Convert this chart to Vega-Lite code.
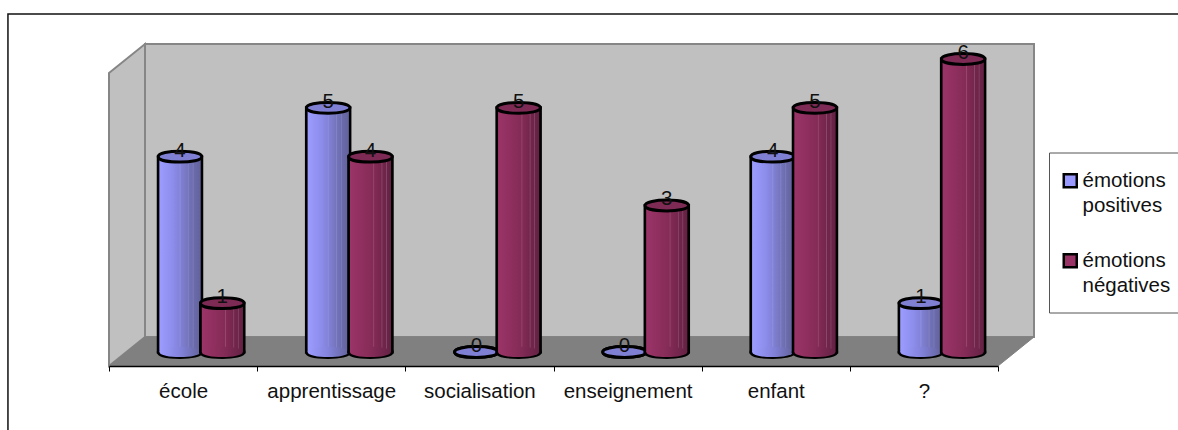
{
  "$schema": "https://vega.github.io/schema/vega-lite/v6.json",
  "width": 925,
  "height": 322,
  "autosize": {"type": "none"},
  "padding": {"left": 109, "top": 44, "right": 144, "bottom": 64},
  "background": "white",
  "view": {"stroke": null},
  "config": {"font": "Liberation Sans"},
  "datasets": {
    "emotions": [
      {"categorie": "école", "serie": "émotions positives", "valeur": 4},
      {"categorie": "école", "serie": "émotions négatives", "valeur": 1},
      {"categorie": "apprentissage", "serie": "émotions positives", "valeur": 5},
      {"categorie": "apprentissage", "serie": "émotions négatives", "valeur": 4},
      {"categorie": "socialisation", "serie": "émotions positives", "valeur": 0},
      {"categorie": "socialisation", "serie": "émotions négatives", "valeur": 5},
      {"categorie": "enseignement", "serie": "émotions positives", "valeur": 0},
      {"categorie": "enseignement", "serie": "émotions négatives", "valeur": 3},
      {"categorie": "enfant", "serie": "émotions positives", "valeur": 4},
      {"categorie": "enfant", "serie": "émotions négatives", "valeur": 5},
      {"categorie": "?", "serie": "émotions positives", "valeur": 1},
      {"categorie": "?", "serie": "émotions négatives", "valeur": 6}
    ]
  },
  "resolve": {"scale": {"x": "independent"}},
  "layer": [
    {
      "description": "Chart frame and the walls and floor of the 3D box, in category and value units",
      "layer": [
        {
          "data": {"values": [{"a": -0.682, "b": 7.5, "haut": 6.921, "bas": -2}]},
          "mark": {"type": "rect", "fill": "white", "stroke": "#111111", "strokeWidth": 1.5},
          "encoding": {
            "x": {"field": "a", "type": "quantitative", "axis": null, "scale": {"domain": [0, 6.243], "range": [0, 925], "nice": false, "zero": false}},
            "x2": {"field": "b"},
            "y": {"field": "haut", "type": "quantitative", "axis": null, "scale": {"domain": [-0.287, 6.307], "range": [322, 0], "nice": false, "zero": false}},
            "y2": {"field": "bas"}
          }
        },
        {
          "data": {"values": [{"a": 0, "haut": 5.713, "bas": -0.287}, {"a": 0.243, "haut": 6.307, "bas": 0.307}]},
          "mark": {"type": "area", "fill": "#c0c0c0", "stroke": "#868686", "strokeWidth": 2},
          "encoding": {
            "x": {"field": "a", "type": "quantitative", "axis": null},
            "y": {"field": "haut", "type": "quantitative", "axis": null},
            "y2": {"field": "bas"}
          }
        },
        {
          "data": {"values": [{"a": 0.243, "b": 6.243, "haut": 6.307, "bas": 0.307}]},
          "mark": {"type": "rect", "fill": "#c0c0c0", "stroke": "#868686", "strokeWidth": 2},
          "encoding": {
            "x": {"field": "a", "type": "quantitative", "axis": null},
            "x2": {"field": "b"},
            "y": {"field": "haut", "type": "quantitative", "axis": null},
            "y2": {"field": "bas"}
          }
        },
        {
          "data": {"values": [{"a": 0, "b": 6, "niveau": -0.287}, {"a": 0.243, "b": 6.243, "niveau": 0.307}]},
          "mark": {"type": "area", "orient": "horizontal", "fill": "#808080", "stroke": "#808080", "strokeWidth": 1},
          "encoding": {
            "y": {"field": "niveau", "type": "quantitative", "axis": null},
            "x": {"field": "a", "type": "quantitative", "axis": null},
            "x2": {"field": "b"}
          }
        }
      ]
    },
    {
      "description": "Cylinders: base ellipse, outlined body, shaded body, shaded base, lid, value label",
      "data": {"name": "emotions"},
      "encoding": {
        "x": {
          "field": "categorie",
          "type": "nominal",
          "sort": null,
          "scale": {"domain": ["école", "apprentissage", "socialisation", "enseignement", "enfant", "?"], "range": [0, 889], "paddingInner": 0, "paddingOuter": 0},
          "axis": {
            "title": null,
            "labelAngle": 0,
            "labelFontSize": 20.5,
            "labelColor": "#111111",
            "labelPadding": 10,
            "labelFont": "Liberation Sans",
            "domainColor": "#000000",
            "domainWidth": 1.5,
            "tickColor": "#000000",
            "tickSize": 5,
            "tickWidth": 1,
            "tickBand": "extent",
            "grid": false,
            "zindex": 1
          }
        },
        "xOffset": {
          "field": "serie",
          "type": "nominal",
          "scale": {"type": "point", "domain": ["émotions positives", "émotions négatives"], "range": [71, 113.3], "padding": 0}
        },
        "y": {"field": "valeur", "type": "quantitative", "axis": null, "stack": null}
      },
      "layer": [
        {
          "transform": [{"filter": "datum.serie === 'émotions positives'"}],
          "mark": {"type": "point", "shape": "M-1 0C-1 -0.333 1 -0.333 1 0C1 0.333 -1 0.333 -1 0Z", "size": 1892, "filled": true, "fill": "#7f7fd4", "stroke": "#000000", "strokeWidth": 3, "opacity": 1},
          "encoding": {"y": {"datum": 0, "type": "quantitative"}}
        },
        {
          "transform": [{"filter": "datum.serie === 'émotions positives'"}],
          "mark": {"type": "bar", "width": 43.5, "stroke": "#000000", "strokeWidth": 3},
          "encoding": {
            "fill": {
              "field": "serie",
              "type": "nominal",
              "scale": {"domain": ["émotions positives", "émotions négatives"], "range": ["#9999ff", "#993366"]},
              "legend": {
                "title": " ",
                "titleFontSize": 1,
                "titlePadding": 1,
                "orient": "none",
                "legendX": 940,
                "legendY": 108.5,
                "fillColor": "white",
                "strokeColor": "#555555",
                "padding": 16,
                "rowPadding": 32,
                "symbolType": "square",
                "symbolSize": 169,
                "symbolOffset": -5,
                "symbolStrokeColor": "#000000",
                "symbolStrokeWidth": 2.5,
                "symbolOpacity": 1,
                "labelFontSize": 20.5,
                "labelColor": "#111111",
                "labelFont": "Liberation Sans",
                "labelOffset": 2,
                "labelLimit": 200,
                "labelExpr": "split(datum.label, ' ')",
                "encoding": {"labels": {"lineHeight": {"value": 25}}}
              }
            }
          }
        },
        {
          "transform": [{"filter": "datum.serie === 'émotions positives'"}],
          "mark": {"type": "bar", "width": 41, "fill": {"gradient": "linear", "x1": 0, "x2": 1, "y1": 0, "y2": 0, "stops": [{"offset": 0, "color": "#9c9cff"}, {"offset": 0.3, "color": "#8e8eee"}, {"offset": 0.48, "color": "#8383da"}, {"offset": 0.5, "color": "#8e8ee0"}, {"offset": 0.53, "color": "#8080d2"}, {"offset": 0.68, "color": "#7575be"}, {"offset": 0.7, "color": "#8585c6"}, {"offset": 0.72, "color": "#7272b8"}, {"offset": 0.8, "color": "#6d6db2"}, {"offset": 0.82, "color": "#7e7eba"}, {"offset": 0.84, "color": "#6b6bac"}, {"offset": 1, "color": "#62629c"}]}}
        },
        {
          "transform": [{"filter": "datum.serie === 'émotions positives' && datum.valeur > 0"}],
          "mark": {"type": "point", "shape": "M-1 0C-1 -0.333 1 -0.333 1 0C1 0.333 -1 0.333 -1 0Z", "size": 1681, "filled": true, "opacity": 1, "strokeWidth": 0, "fill": {"gradient": "linear", "x1": 0, "x2": 1, "y1": 0, "y2": 0, "stops": [{"offset": 0, "color": "#9c9cff"}, {"offset": 0.5, "color": "#8383dc"}, {"offset": 0.9, "color": "#6a6aaa"}, {"offset": 1, "color": "#62629c"}]}},
          "encoding": {"y": {"datum": 0, "type": "quantitative"}}
        },
        {
          "transform": [{"filter": "datum.serie === 'émotions positives'"}],
          "mark": {"type": "point", "shape": "M-1 0C-1 -0.333 1 -0.333 1 0C1 0.333 -1 0.333 -1 0Z", "size": 1892, "filled": true, "fill": "#7f7fd4", "stroke": "#000000", "strokeWidth": 3, "opacity": 1}
        },
        {
          "transform": [{"filter": "datum.serie === 'émotions négatives'"}],
          "mark": {"type": "point", "shape": "M-1 0C-1 -0.333 1 -0.333 1 0C1 0.333 -1 0.333 -1 0Z", "size": 1892, "filled": true, "fill": "#7d2a54", "stroke": "#000000", "strokeWidth": 3, "opacity": 1},
          "encoding": {"y": {"datum": 0, "type": "quantitative"}}
        },
        {
          "transform": [{"filter": "datum.serie === 'émotions négatives'"}],
          "mark": {"type": "bar", "width": 43.5, "stroke": "#000000", "strokeWidth": 3},
          "encoding": {
            "fill": {"field": "serie", "type": "nominal"}
          }
        },
        {
          "transform": [{"filter": "datum.serie === 'émotions négatives'"}],
          "mark": {"type": "bar", "width": 41, "fill": {"gradient": "linear", "x1": 0, "x2": 1, "y1": 0, "y2": 0, "stops": [{"offset": 0, "color": "#9b3468"}, {"offset": 0.3, "color": "#8f2f5f"}, {"offset": 0.56, "color": "#842b56"}, {"offset": 0.58, "color": "#964a70"}, {"offset": 0.6, "color": "#822a54"}, {"offset": 0.76, "color": "#75264d"}, {"offset": 0.78, "color": "#8a4a6c"}, {"offset": 0.8, "color": "#72254a"}, {"offset": 0.87, "color": "#6e2448"}, {"offset": 0.89, "color": "#834767"}, {"offset": 0.91, "color": "#6a2346"}, {"offset": 1, "color": "#642243"}]}}
        },
        {
          "transform": [{"filter": "datum.serie === 'émotions négatives' && datum.valeur > 0"}],
          "mark": {"type": "point", "shape": "M-1 0C-1 -0.333 1 -0.333 1 0C1 0.333 -1 0.333 -1 0Z", "size": 1681, "filled": true, "opacity": 1, "strokeWidth": 0, "fill": {"gradient": "linear", "x1": 0, "x2": 1, "y1": 0, "y2": 0, "stops": [{"offset": 0, "color": "#9b3468"}, {"offset": 0.5, "color": "#862c58"}, {"offset": 0.9, "color": "#6c2449"}, {"offset": 1, "color": "#642243"}]}},
          "encoding": {"y": {"datum": 0, "type": "quantitative"}}
        },
        {
          "transform": [{"filter": "datum.serie === 'émotions négatives'"}],
          "mark": {"type": "point", "shape": "M-1 0C-1 -0.333 1 -0.333 1 0C1 0.333 -1 0.333 -1 0Z", "size": 1892, "filled": true, "fill": "#7d2a54", "stroke": "#000000", "strokeWidth": 3, "opacity": 1}
        },
        {
          "mark": {"type": "text", "fontSize": 20.5, "font": "Liberation Sans", "color": "#111111", "baseline": "alphabetic", "align": "center"},
          "encoding": {"text": {"field": "valeur", "type": "quantitative"}}
        }
      ]
    }
  ]
}
